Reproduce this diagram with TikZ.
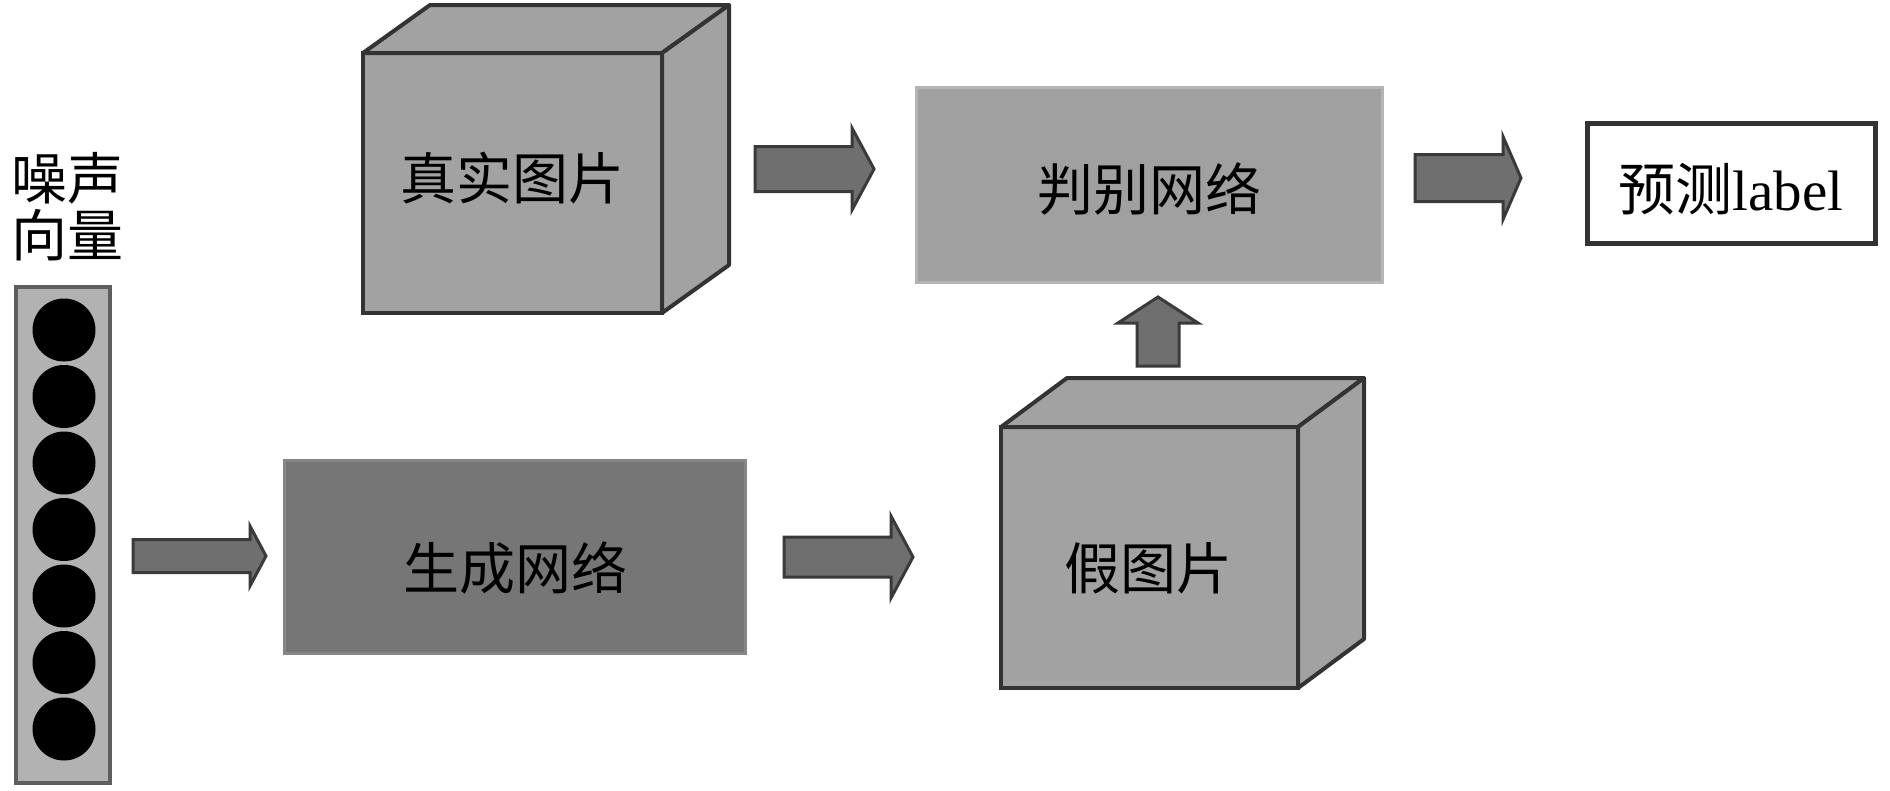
\documentclass[tikz,border=0pt]{standalone}
\usepackage{fontspec}
\setmainfont{Liberation Serif}
\newfontfamily\cjk{Noto Sans CJK SC}
\usetikzlibrary{calc}
\definecolor{boxgray}{HTML}{A0A0A0}
\definecolor{boxedge}{HTML}{B4B4B4}
\definecolor{gengray}{HTML}{767676}
\definecolor{genedge}{HTML}{868686}
\definecolor{cubegray}{HTML}{A2A2A2}
\definecolor{edgegray}{HTML}{333333}
\definecolor{arrowgray}{HTML}{6F6F6F}
\definecolor{arrowedge}{HTML}{3A3A3A}
\definecolor{colgray}{HTML}{B2B2B2}
\definecolor{coledge}{HTML}{5E5E5E}
\tikzset{
  cubefront/.style={rectangle, fill=cubegray, draw=edgegray, line width=4pt, inner sep=0pt, outer sep=0pt},
  cubeface/.style={fill=cubegray, draw=edgegray, line width=4pt, line join=round},
  flatbox/.style={rectangle, inner sep=0pt, outer sep=0pt, line width=3pt},
  predbox/.style={rectangle, fill=white, draw=edgegray, line width=5pt, inner sep=0pt, outer sep=0pt},
  lbl/.style={font={\cjk\fontsize{56}{57}\selectfont}, inner sep=0pt, align=center},
  latinlbl/.style={font={\fontsize{57}{60}\selectfont}, inner sep=0pt},
  blk/.style={fill=arrowgray, draw=arrowedge, line width=3pt, line join=miter},
  dotnode/.style={circle, fill=black, draw=none, minimum size=63pt, inner sep=0pt},
  colbox/.style={rectangle, fill=colgray, draw=coledge, line width=4pt, inner sep=0pt, outer sep=0pt},
}
% horizontal block arrow: start, tip, shaft half, head half, head length
\newcommand{\hblk}[5]{\draw[blk] ($(#1)+(0,-#3)$) -- ($(#2)+(-#5,-#3)$) -- ($(#2)+(-#5,-#4)$) -- (#2) -- ($(#2)+(-#5,#4)$) -- ($(#2)+(-#5,#3)$) -- ($(#1)+(0,#3)$) -- cycle;}
% vertical (upward) block arrow
\newcommand{\vblk}[5]{\draw[blk] ($(#1)+(-#3,0)$) -- ($(#2)+(-#3,#5)$) -- ($(#2)+(-#4,#5)$) -- (#2) -- ($(#2)+(#4,#5)$) -- ($(#2)+(#3,#5)$) -- ($(#1)+(#3,0)$) -- cycle;}
\begin{document}
\begin{tikzpicture}[x=1pt, y=-1pt]
\fill[white] (0,0) rectangle (1890,790);
\useasboundingbox (0,0) rectangle (1890,790);

% noise label and vector
\node[lbl] (noisetxt) at (67,207) {噪声\\向量};
\node[colbox, minimum width=94pt, minimum height=496pt] (col) at (63,535) {};
\foreach \i in {0,...,6} {
  \node[dotnode] (c\i) at (64,{330+66.5*\i}) {};
}

% real image cube
\node[cubefront, minimum width=299pt, minimum height=260pt] (real) at (512.5,183) {};
\draw[cubeface] (real.north west) -- ++(67,-48) -- ++(299,0) -- (real.north east) -- cycle;
\draw[cubeface] (real.north east) -- ++(67,-48) -- ++(0,260) -- (real.south east) -- cycle;
\node[lbl] (realtxt) at (512,178) {真实图片};

% discriminator
\node[flatbox, fill=boxgray, draw=boxedge, minimum width=466pt, minimum height=195pt] (disc) at (1149,184.5) {};
\node[lbl] (disctxt) at (1149,189) {判别网络};

% prediction
\node[predbox, minimum width=288pt, minimum height=120pt] (pred) at (1731,183) {};
\node[latinlbl] (predtxt) at (1731,189) {{\cjk 预测}label};

% generator
\node[flatbox, fill=gengray, draw=genedge, minimum width=461pt, minimum height=193pt] (gen) at (514.5,556.5) {};
\node[lbl] (gentxt) at (515,568) {生成网络};

% fake image cube
\node[cubefront, minimum width=297pt, minimum height=261pt] (fake) at (1149.5,557.5) {};
\draw[cubeface] (fake.north west) -- ++(66,-49) -- ++(297,0) -- (fake.north east) -- cycle;
\draw[cubeface] (fake.north east) -- ++(66,-49) -- ++(0,261) -- (fake.south east) -- cycle;
\node[lbl] (faketxt) at (1148,568) {假图片};

% block arrows
\coordinate (a1s) at (133,556);  \coordinate (a1t) at (266,556);
\coordinate (a2s) at (784,557);  \coordinate (a2t) at (913,557);
\coordinate (a3s) at (755,169);  \coordinate (a3t) at (874,169);
\coordinate (a4s) at (1415,178); \coordinate (a4t) at (1521,178);
\coordinate (a5s) at (1158,366); \coordinate (a5t) at (1158,297);
\hblk{a1s}{a1t}{16.5}{30}{16}
\hblk{a2s}{a2t}{20}{41}{22}
\hblk{a3s}{a3t}{22.5}{41}{22}
\hblk{a4s}{a4t}{23.5}{41.5}{18}
\vblk{a5s}{a5t}{21}{40}{26}
\end{tikzpicture}
\end{document}
